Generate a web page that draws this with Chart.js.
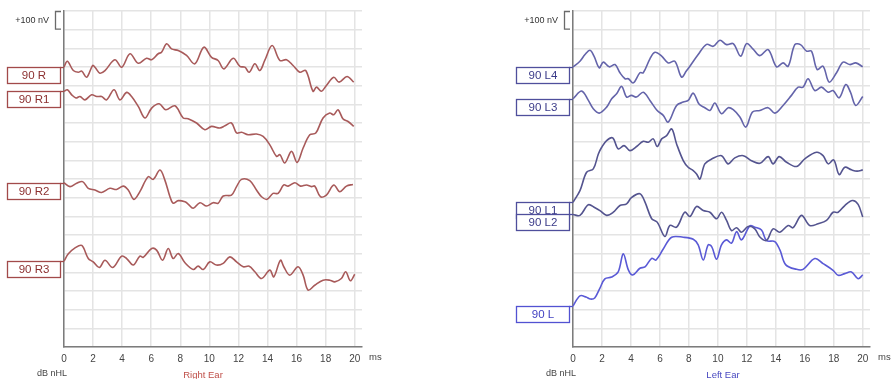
<!DOCTYPE html>
<html>
<head>
<meta charset="utf-8">
<script src="https://cdn.jsdelivr.net/npm/chart.js@4"></script>
<style>
  html, body { margin: 0; padding: 0; background: #fff; }
  #wrap { position: relative; width: 896px; height: 379px; overflow: hidden; }
  canvas { position: absolute; top: 0; }
  #rightEar { left: 0; }
  #leftEar { left: 448px; }
</style>
</head>
<body>
<div id="wrap">
  <canvas id="rightEar" width="448" height="379"></canvas>
  <canvas id="leftEar" width="448" height="379"></canvas>
</div>
<script>
// Time axis (ms) tick labels and amplitude grid (nV)
const TIME_TICKS = [0, 2, 4, 6, 8, 10, 12, 14, 16, 18, 20];
const NV_GRID = [0, 100, 200, 300, 400, 500, 600, 700, 800, 900, 1000, 1100, 1200, 1300, 1400, 1500, 1600, 1700, 1800];

// Trace labels (stimulus level + run)
const RIGHT_LABELS = ['90 R', '90 R1', '90 R2', '90 R3'];
const LEFT_LABELS = ['90 L4', '90 L3', '90 L1', '90 L2', '90 L'];

// Baseline position of each trace on the stacked nV scale
const RIGHT_OFFSETS = [1500, 1370, 880, 460];
const LEFT_OFFSETS = [1500, 1330, 775, 710, 220];

// Waveforms: [time ms, amplitude nV relative to the trace baseline]
const R_90 = [[0,0],[0.23,31],[0.64,-19],[0.98,-28],[1.22,-22],[1.56,-55],[1.97,8],[2.13,-1],[2.47,-33],[2.82,-19],[3.5,39],[3.97,-1],[4.54,71],[5.11,20],[5.68,47],[6.03,39],[6.48,71],[6.71,79],[7.06,124],[7.4,97],[7.86,88],[8.43,62],[9.0,17],[9.62,106],[10.15,52],[10.6,35],[11.0,-10],[11.64,47],[12.1,3],[12.44,-1],[12.74,-28],[13.13,17],[13.47,-19],[13.81,35],[14.32,115],[14.85,35],[15.31,39],[15.76,8],[16.22,-28],[16.63,-19],[17.13,-130],[17.37,-108],[17.71,-130],[18.05,-99],[18.56,-55],[18.92,-81],[19.47,-51],[19.93,-81]];
const R1_90 = [[0,0],[0.23,8],[0.53,-19],[0.82,-36],[1.1,-28],[1.44,-46],[1.9,-19],[2.25,-28],[2.59,-28],[2.93,-46],[3.44,8],[3.85,-46],[4.31,-6],[4.65,-28],[5.11,-81],[5.57,-143],[6.03,-90],[6.55,-67],[7.0,-99],[7.63,-78],[8.2,-143],[8.54,-147],[9.12,-170],[9.69,-206],[10.15,-188],[10.72,-197],[11.07,-185],[11.52,-170],[11.87,-223],[12.21,-220],[12.67,-233],[13.24,-229],[13.7,-242],[14.16,-287],[14.62,-349],[14.85,-340],[15.19,-384],[15.65,-322],[16.04,-381],[16.45,-304],[16.91,-233],[17.32,-224],[17.82,-143],[18.28,-117],[18.56,-126],[18.85,-99],[19.2,-149],[19.54,-162],[19.93,-188]];
const R2_90 = [[0,0],[0.41,-21],[0.87,-3],[1.28,6],[1.67,-30],[2.13,-39],[2.59,-52],[3.16,-30],[3.62,-36],[4.08,-18],[4.42,-39],[4.81,-89],[5.22,-48],[5.79,32],[6.14,18],[6.6,68],[6.94,14],[7.29,-75],[7.51,-110],[7.86,-96],[8.32,-102],[8.54,-114],[8.89,-137],[9.35,-107],[9.81,-125],[10.26,-107],[10.6,-110],[10.95,-71],[11.52,-66],[11.87,-21],[12.21,18],[12.78,11],[13.24,-39],[13.59,-75],[13.97,-89],[14.38,-57],[14.73,-57],[15.12,-12],[15.42,-18],[15.88,0],[16.27,-18],[16.68,-12],[17.02,-21],[17.25,-18],[17.64,-75],[18.05,-66],[18.56,-12],[18.97,-48],[19.43,-18],[19.88,-9]];
const R3_90 = [[0,0],[0.3,39],[0.76,71],[1.22,84],[1.67,14],[2.01,-4],[2.43,-34],[2.82,5],[3.35,-34],[3.97,27],[4.31,14],[4.76,-21],[5.22,27],[5.45,20],[6.03,68],[6.37,59],[6.78,5],[7.17,68],[7.51,14],[7.86,41],[8.32,-9],[8.89,-45],[9.23,-27],[9.58,-45],[10.03,-4],[10.49,-21],[10.95,-12],[11.41,23],[11.87,-4],[12.33,-30],[12.74,-27],[13.13,-57],[13.59,-93],[14.16,-48],[14.43,-84],[14.89,5],[15.12,-30],[15.53,-75],[16.1,-30],[16.45,-75],[16.79,-155],[17.25,-129],[17.82,-102],[18.28,-102],[18.63,-111],[19.08,-93],[19.38,-57],[19.7,-105],[20.0,-70]];

const L4_90 = [[0,0],[0.48,31],[0.83,67],[1.17,90],[1.45,58],[1.81,-4],[2.09,26],[2.5,1],[2.9,13],[3.24,-31],[3.59,-63],[3.82,-63],[4.16,-85],[4.62,-31],[4.85,-31],[5.31,44],[5.66,79],[6.12,58],[6.57,22],[7.03,31],[7.49,-54],[7.82,-22],[8.07,4],[8.64,67],[9.22,121],[9.68,111],[10.14,143],[10.6,120],[11.06,125],[11.57,58],[11.98,125],[12.43,96],[12.9,61],[13.47,93],[14.05,1],[14.5,22],[14.85,4],[15.31,120],[15.7,120],[16.12,85],[16.46,85],[16.85,-13],[17.26,4],[17.68,-81],[18.19,-31],[18.64,26],[19.1,13],[19.52,22],[20.0,1]];
const L3_90 = [[0,0],[0.6,41],[1.06,-9],[1.4,-54],[1.81,-77],[2.32,-45],[2.67,0],[3.01,27],[3.36,66],[3.7,9],[4.03,18],[4.37,9],[4.85,35],[5.31,-9],[5.81,-63],[6.23,-89],[6.57,-125],[7.15,-36],[7.61,-18],[7.95,-9],[8.3,30],[8.71,-30],[9.1,-48],[9.45,-63],[9.79,-23],[10.25,-80],[10.71,-48],[11.06,-59],[11.52,-98],[11.93,-152],[12.39,-71],[12.9,-63],[13.47,-48],[13.93,-77],[14.5,-36],[15.08,18],[15.54,62],[15.88,62],[16.23,107],[16.69,44],[17.15,62],[17.61,35],[17.95,44],[18.37,5],[18.83,76],[19.15,35],[19.52,-36],[20.0,12]];
const L1_90 = [[0,0],[0.48,63],[0.94,161],[1.4,179],[1.75,259],[1.98,295],[2.32,331],[2.74,345],[3.12,286],[3.52,304],[3.93,277],[4.39,299],[4.85,327],[5.2,322],[5.54,340],[5.81,299],[6.12,340],[6.46,357],[6.81,393],[7.15,313],[7.61,224],[7.95,188],[8.3,170],[8.53,152],[8.76,125],[9.1,206],[9.57,232],[10.25,250],[10.71,206],[11.17,238],[11.75,250],[12.32,223],[12.9,209],[13.47,245],[13.81,206],[14.23,245],[14.74,215],[15.43,192],[16.0,233],[16.81,268],[17.26,250],[17.61,206],[18.0,227],[18.37,149],[18.76,188],[19.22,174],[19.61,167],[20.0,174]];
const L2_90 = [[0,0],[0.48,-5],[1.06,52],[1.52,36],[1.86,21],[2.32,-5],[2.78,12],[3.24,48],[3.7,57],[4.03,90],[4.62,111],[4.97,66],[5.43,-23],[5.81,-41],[6.34,-118],[6.69,-59],[7.15,-68],[7.72,12],[8.07,-11],[8.53,43],[8.99,21],[9.45,12],[9.91,-23],[10.25,12],[10.6,-32],[10.94,-86],[11.29,-71],[11.63,-95],[12.09,-64],[12.55,-77],[12.9,-121],[13.36,-139],[13.81,-77],[14.28,-95],[14.85,-59],[15.19,-71],[15.77,-5],[16.34,-59],[16.92,-50],[17.5,-32],[17.95,12],[18.3,12],[18.76,48],[19.29,75],[19.68,54],[20.0,-14]];
const L_90 = [[0,0],[0.48,54],[0.9,48],[1.2,37],[1.5,43],[1.86,96],[2.2,145],[2.67,155],[3.12,182],[3.47,279],[3.82,193],[4.12,166],[4.62,202],[4.97,209],[5.43,255],[5.72,246],[6.23,305],[6.81,368],[7.61,368],[8.3,357],[8.64,327],[8.99,246],[9.33,327],[9.57,318],[9.91,250],[10.25,327],[10.6,354],[10.94,336],[11.29,398],[11.63,354],[12.21,429],[12.55,422],[13.01,407],[13.36,350],[13.93,345],[14.28,300],[14.69,220],[15.43,196],[15.88,196],[16.69,254],[17.26,227],[17.95,191],[18.3,164],[18.76,173],[19.22,182],[19.68,146],[20.0,166]];

const RIGHT_WAVES = [R_90, R1_90, R2_90, R3_90];
const LEFT_WAVES = [L4_90, L3_90, L1_90, L2_90, L_90];

const FONT = "'Liberation Sans', Arial, sans-serif";

// Draws the scale bar, trace label boxes and axis captions
function annotations(panel) {
  return {
    id: 'annotations',
    afterDraw(chart) {
      const { ctx, chartArea: a, scales: { y } } = chart;
      ctx.save();

      // +100 nV calibration bracket
      const yTop = y.getPixelForValue(1800);
      const yBot = y.getPixelForValue(1700);
      const bx0 = a.left - 9, bx1 = a.left - 3;
      ctx.strokeStyle = '#6a6a6a';
      ctx.lineWidth = 1.3;
      ctx.beginPath();
      ctx.moveTo(bx1, yTop + 0.5);
      ctx.lineTo(bx0 + 0.5, yTop + 0.5);
      ctx.lineTo(bx0 + 0.5, yBot - 0.5);
      ctx.lineTo(bx1, yBot - 0.5);
      ctx.stroke();
      ctx.fillStyle = '#333';
      ctx.font = '9px ' + FONT;
      ctx.textAlign = 'right';
      ctx.textBaseline = 'middle';
      ctx.fillText('+100 nV', a.left - 15, (yTop + yBot) / 2);

      // Trace label boxes, top edge on the trace baseline
      panel.labels.forEach((label, i) => {
        const ty = Math.round(y.getPixelForValue(panel.offsets[i])) + 0.5;
        const bl = a.left - 57, bw = 53, bh = 16;
        const st = panel.boxStyle[i];
        ctx.fillStyle = '#fff';
        ctx.fillRect(bl, ty, bw, bh);
        ctx.strokeStyle = st.border;
        ctx.lineWidth = 1.3;
        ctx.strokeRect(bl + 0.5, ty, bw, bh);
        ctx.beginPath();
        ctx.moveTo(bl + bw, ty);
        ctx.lineTo(a.left, ty);
        ctx.stroke();
        ctx.fillStyle = st.text;
        ctx.font = '11.5px ' + FONT;
        ctx.textAlign = 'center';
        ctx.textBaseline = 'middle';
        ctx.fillText(label, bl + bw / 2 + 0.5, ty + bh / 2 + 0.5);
      });

      // Axis captions
      ctx.textBaseline = 'middle';
      ctx.font = '9.5px ' + FONT;
      ctx.fillStyle = '#444';
      ctx.textAlign = 'left';
      ctx.fillText('ms', a.left + 305, 357);
      ctx.textAlign = 'center';
      ctx.font = '9px ' + FONT;
      ctx.fillText('dB nHL', a.left - 12, 374);
      ctx.font = '9.5px ' + FONT;
      ctx.fillStyle = panel.titleColor;
      ctx.fillText(panel.title, a.left + panel.titleDx, 375);
      ctx.restore();
    }
  };
}

function makePanel(canvasId, panel) {
  const datasets = panel.waves.map((wave, i) => ({
    data: wave.map(p => ({ x: p[0], y: panel.offsets[i] + p[1] })),
    borderColor: panel.colors[i],
    borderWidth: 1.6,
    pointRadius: 0,
    fill: false,
    tension: 0.35
  }));

  new Chart(document.getElementById(canvasId), {
    type: 'line',
    data: { datasets },
    options: {
      responsive: false,
      animation: false,
      devicePixelRatio: 1,
      layout: { autoPadding: false, padding: { left: panel.padLeft, right: panel.padRight, top: 11, bottom: 0 } },
      plugins: { legend: { display: false }, tooltip: { enabled: false } },
      scales: {
        x: {
          type: 'linear',
          min: 0,
          max: 20.5,
          afterBuildTicks: s => { s.ticks = TIME_TICKS.map(v => ({ value: v })); },
          afterFit: s => { s.height = 32; },
          grid: { color: '#e4e4e4', lineWidth: 1.5, drawTicks: false },
          border: { color: '#7c7c7c', width: 1.5 },
          ticks: { color: '#444', font: { family: FONT, size: 10 }, padding: 6, maxRotation: 0, autoSkip: false }
        },
        y: {
          type: 'linear',
          min: 0,
          max: 1800,
          afterBuildTicks: s => { s.ticks = NV_GRID.map(v => ({ value: v })); },
          afterFit: s => { s.width = 0; },
          grid: { color: '#e4e4e4', lineWidth: 1.5, drawTicks: false },
          border: { color: '#7c7c7c', width: 1.5 },
          ticks: { display: false }
        }
      }
    },
    plugins: [annotations(panel)]
  });
}

const redBox = { border: '#a24a4a', text: '#8c3030' };
const slateBox = { border: '#4f4f9c', text: '#3a3a88' };
const blueBox = { border: '#5252d2', text: '#4242c2' };

makePanel('rightEar', {
  waves: RIGHT_WAVES,
  offsets: RIGHT_OFFSETS,
  labels: RIGHT_LABELS,
  colors: ['#a85a5a', '#a85a5a', '#a85a5a', '#a85a5a'],
  boxStyle: [redBox, redBox, redBox, redBox],
  padLeft: 64,
  padRight: 86,
  title: 'Right Ear',
  titleDx: 139,
  titleColor: '#c0504a'
});

makePanel('leftEar', {
  waves: LEFT_WAVES,
  offsets: LEFT_OFFSETS,
  labels: LEFT_LABELS,
  colors: ['#6464aa', '#6464aa', '#54548f', '#54548f', '#5a5ad6'],
  boxStyle: [slateBox, slateBox, slateBox, slateBox, blueBox],
  padLeft: 125,
  padRight: 26,
  title: 'Left Ear',
  titleDx: 150,
  titleColor: '#4848c0'
});
</script>
</body>
</html>
